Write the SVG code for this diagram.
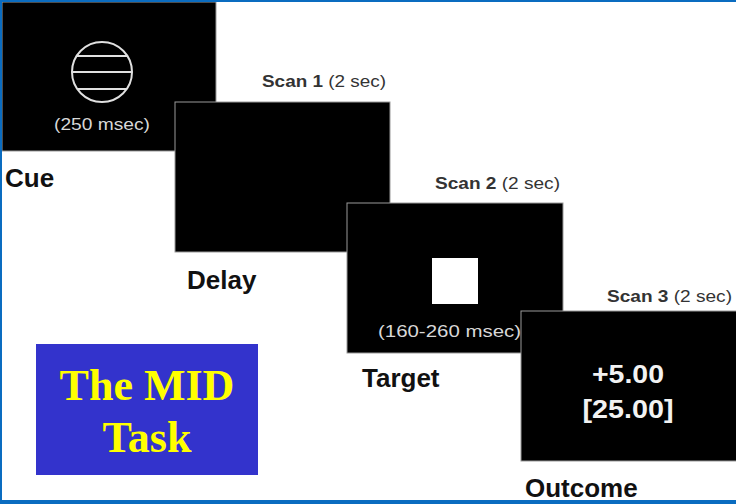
<svg xmlns="http://www.w3.org/2000/svg" width="736" height="504" viewBox="0 0 736 504">
<style>
.scr{fill:#000;stroke:#9a9a9a;stroke-width:1}
.lbl{font-family:"Liberation Sans",Arial,sans-serif;font-weight:bold;font-size:26px;fill:#111}
.scan{font-family:"Liberation Sans",Arial,sans-serif;font-size:16px;fill:#333}
.scan .b{font-weight:bold}
.in{font-family:"Liberation Sans",Arial,sans-serif;font-size:16px;fill:#d8d8d8}
.out{font-family:"Liberation Sans",Arial,sans-serif;font-size:26px;font-weight:bold;fill:#f2f2f2;text-anchor:middle}
.title{font-family:"Liberation Serif","Times New Roman",serif;font-weight:bold;font-size:44px;fill:#ffff00;text-anchor:middle}
</style>
<rect width="736" height="504" fill="#fff"/>
<g id="cue">
<rect class="scr" x="2" y="2" width="214" height="149"/>
<circle cx="102" cy="72" r="30" fill="none" stroke="#e0e0e0" stroke-width="2"/>
<line x1="77" y1="56" x2="127" y2="56" stroke="#e0e0e0" stroke-width="2"/>
<line x1="72" y1="72" x2="132" y2="72" stroke="#e0e0e0" stroke-width="2"/>
<line x1="77" y1="89" x2="127" y2="89" stroke="#e0e0e0" stroke-width="2"/>
<text class="in" x="54" y="130" textLength="96" lengthAdjust="spacingAndGlyphs">(250 msec)</text>
<text class="lbl" x="5" y="187">Cue</text>
</g>
<g id="delay">
<text class="scan" x="262" y="87" textLength="124" lengthAdjust="spacingAndGlyphs"><tspan class="b">Scan 1</tspan> (2 sec)</text>
<rect class="scr" x="175" y="102" width="215" height="150"/>
<text class="lbl" x="187" y="289">Delay</text>
</g>
<g id="target">
<text class="scan" x="435" y="189" textLength="125" lengthAdjust="spacingAndGlyphs"><tspan class="b">Scan 2</tspan> (2 sec)</text>
<rect class="scr" x="347" y="203" width="216" height="150"/>
<rect x="432" y="258" width="46" height="46" fill="#fff"/>
<text class="in" x="378" y="337" textLength="143" lengthAdjust="spacingAndGlyphs">(160-260  msec)</text>
<text class="lbl" x="362" y="387">Target</text>
</g>
<g id="outcome">
<text class="scan" x="607" y="302" textLength="125" lengthAdjust="spacingAndGlyphs"><tspan class="b">Scan 3</tspan> (2 sec)</text>
<rect class="scr" x="521" y="311" width="216" height="150"/>
<text class="out" x="628" y="383" textLength="72" lengthAdjust="spacingAndGlyphs">+5.00</text>
<text class="out" x="628" y="418" textLength="91" lengthAdjust="spacingAndGlyphs">[25.00]</text>
<text class="lbl" x="525" y="497">Outcome</text>
</g>
<g id="title">
<rect x="36" y="344" width="222" height="131" fill="#3333cc"/>
<text class="title" x="147" y="400">The MID</text>
<text class="title" x="147" y="452">Task</text>
</g>
<g id="connectors"/>
<g id="frame" fill="#0a6cc0">
<rect x="0" y="0" width="736" height="2"/>
<rect x="0" y="0" width="2" height="504"/>
<rect x="0" y="500" width="736" height="4"/>
</g>
</svg>
